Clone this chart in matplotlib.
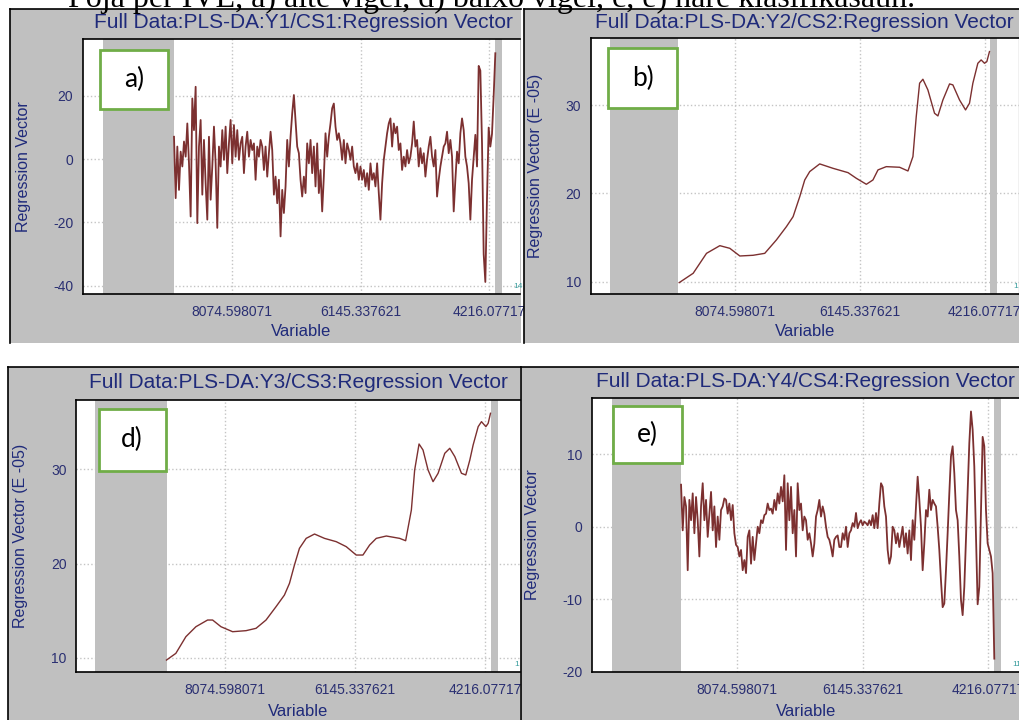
"""
Four PLS-DA regression vector panels (screenshot style), 2x2 layout.
"""

import numpy as np
import matplotlib.pyplot as plt
from matplotlib.patches import Rectangle

# ---------------- data ----------------
caption = 'Foja per IVE, a) alte vigel, d) baixo vigel, c, e) hare klasifikasaun.'

titles = ['Full Data:PLS-DA:Y1/CS1:Regression Vector',
          'Full Data:PLS-DA:Y2/CS2:Regression Vector',
          'Full Data:PLS-DA:Y3/CS3:Regression Vector',
          'Full Data:PLS-DA:Y4/CS4:Regression Vector']
ylabels = ['Regression Vector', 'Regression Vector (E -05)',
           'Regression Vector (E -05)', 'Regression Vector']
tags = ['a)', 'b)', 'd)', 'e)']
corner_labels = ['14', '1', '1', '11']

xtick_vals = [8074.598071, 6145.337621, 4216.07717]
xtick_labels = ['8074.598071', '6145.337621', '4216.07717']
excluded = [(10005, 8945), (4130, 4020)]   # grey (excluded) wavenumber ranges

# Y1/CS1 (noisy), evenly spaced variables from 8945 to 4125
rv_a = [7.1, -12.3, 4.0, -9.7, 2.4, -2.3, 5.6, 0.8, 11.3, -1.3,
        -18.1, 19.2, 9.2, 22.9, -20.2, 4.0, 12.4, -11.2, 6.1, -7.6,
        -19.1, 7.1, -12.8, -2.3, 10.3, -1.3, -21.7, 4.0, -2.3, 9.2,
        -0.2, 10.3, -4.4, 5.0, 12.4, -1.3, 10.8, 0.8, 9.2, -0.2,
        5.0, 7.1, -4.4, 4.0, 8.7, 0.8, 6.1, 2.9, 5.0, -6.5,
        4.0, 0.8, 6.1, 4.0, -3.4, 4.0, -5.5, 1.9, 8.7, 2.9,
        -11.2, -5.5, -13.9, -6.5, -24.4, -9.7, -17.0, -8.6, 6.1, -2.3,
        7.1, 14.5, 20.3, 12.4, 4.0, 1.9, -6.5, -11.8, -5.5, -10.7,
        5.0, -1.3, 6.1, -4.4, 4.0, -8.6, 5.0, -10.7, -3.4, -16.5,
        -5.5, 8.2, 0.8, 7.1, 11.3, 16.1, 17.6, 10.3, 6.1, 8.2,
        5.0, -0.2, 6.1, -1.3, 5.0,
        2.9, -0.2, 4.0, -2.3, -4.4, -1.3, -6.5, -2.3, -6.5, -3.4,
        -8.6, -4.4, -9.7, -1.3, -6.5, -4.4, -8.6, -1.3, -10.7, -19.1,
        -7.6, -0.2, 4.0, 8.2, 11.3, 12.9, 4.0, 11.3, 8.2, 10.3,
        2.9, 5.0, -3.4, 0.8, -2.3, 2.9, -1.3, 0.8, 5.0, 11.9,
        4.0, 6.1, -2.3, 3.5, -1.3, 1.9, -5.5, -0.2, 4.0, 7.1,
        0.8, -2.3, 2.9, -11.8, -6.5, -2.3, 0.8, 4.0, 5.0, 8.7,
        1.9, 6.1, 0.8, -16.5, -6.5, 2.4, -1.3, 8.2, 12.9, 9.2,
        0.8, -2.3, -7.6, -19.1, -6.5, 0.8, 7.7, -2.3,
        29.5, 28.0, 5.0, -30.0, -38.8, -12.0, 10.0, 4.0, 8.0, 20.0, 33.5]
wn_a = np.linspace(8945, 4125, len(rv_a))

# Y2/CS2 (smooth, E-05)
wn_b = [8934, 8718, 8512, 8306, 8152, 7997, 7792, 7612, 7432, 7277,
        7174, 7071, 6994, 6917, 6763, 6557, 6325, 6197, 6042, 5940,
        5862, 5734, 5528, 5399, 5322, 5271, 5219, 5168, 5091, 4988,
        4936, 4859, 4756, 4705, 4602, 4509, 4448, 4396, 4319, 4268,
        4216, 4180, 4139]
rv_b = [9.89, 10.95, 13.21, 14.08, 13.78, 12.91, 12.99, 13.21, 14.73, 16.24,
        17.37, 19.64, 21.53, 22.48, 23.35, 22.85, 22.36, 21.72, 21.04, 21.53,
        22.67, 23.04, 22.97, 22.55, 24.18, 28.71, 32.50, 32.95, 31.74, 29.09,
        28.79, 30.60, 32.42, 32.31, 30.60, 29.47, 30.23, 32.50, 34.76, 35.14,
        34.76, 34.95, 36.09]

# Y3/CS3 (smooth, E-05)
wn_d = [8948, 8809, 8660, 8511, 8338, 8263, 8139, 7966, 7767, 7618,
        7470, 7321, 7197, 7122, 7048, 6974, 6874, 6750, 6602, 6428,
        6279, 6131, 6031, 5932, 5833, 5684, 5486, 5397, 5312, 5263,
        5198, 5139, 5064, 4990, 4915, 4816, 4742, 4667, 4568, 4504,
        4444, 4395, 4320, 4271, 4206, 4172, 4137]
rv_d = [9.75, 10.46, 12.23, 13.29, 14.0, 14.0, 13.29, 12.76, 12.87, 13.12,
        14.0, 15.42, 16.65, 17.89, 19.84, 21.61, 22.67, 23.13, 22.67, 22.32,
        21.79, 20.90, 20.90, 21.96, 22.67, 22.92, 22.67, 22.42, 25.68, 29.93,
        32.69, 32.05, 29.93, 28.69, 29.58, 31.70, 32.23, 31.35, 29.58, 29.40,
        30.99, 32.58, 34.53, 35.06, 34.53, 34.88, 35.95]

# Y4/CS4 (noisy), evenly spaced variables from 8940 to 4125
rv_e = [5.8, -0.5, 4.1, 2.8, -6.0, 3.7, 0.9, 4.6, -0.9, 4.1,
        0.9, -4.1, 2.8, 6.0, 0.9, 3.7, -1.4, 1.8, 4.8, -0.5,
        2.8, -2.8, 1.4, -1.8, 2.3, 2.8, 3.9, 3.7, 1.8, 3.2,
        0.9, 3.0, -0.9, -2.5, -2.8, -4.1, -3.2, -6.0, -4.6, -6.4,
        -1.4, -0.5, -5.1, -1.4, -4.6, -2.3, 0.0, -0.9, 0.9, 0.5,
        1.6, 1.8, 3.2, 2.3, 2.5, 1.8, 3.7, 2.3, 4.6, 3.2,
        5.5, 3.5, 7.1, -3.2, 6.0, 0.9, 5.5, -0.9, 2.3, -4.1,
        6.0, 2.3, 3.2, -0.5, 1.4, 0.9, -1.8, -0.9, -2.3, -4.1,
        -2.3, 1.4, 2.3, 3.7, 1.4, 2.8, 1.8, 0.0, -1.4, -1.8,
        -2.8, -4.1, -1.8, -1.4, -1.2, -2.8,
        -2.8, -0.9, -1.8, 0.0, -2.8, -0.9, -0.5, 0.5, 0.0, 1.9,
        -0.2, 0.5, 0.9, 0.2, 0.7, 0.5, 0.2, 0.9, 0.2, 1.6,
        -0.2, 1.9, -0.2, 3.2, 6.0, 5.5, 2.8, 1.4, -3.2, -5.1,
        -4.1, 0.0, -0.5, -2.3, -0.9, -2.8, -1.4, 0.0, -2.8, -0.9,
        -3.7, -0.5, -4.6, 0.9, -1.8, 2.8, 6.9, 3.7, 0.0, -6.0,
        -2.3, 2.3, 1.4, 5.1, 2.3, 3.7, 3.2, 2.8, 0.0, -3.2,
        -7.4, -11.1, -10.6, -6.0, -0.9, 4.6, 9.7, 11.1, 7.4, 2.3,
        0.9, -4.1, -10.1, -12.2, -8.3, -1.8, 4.6, 11.5, 15.9, 13.4,
        8.3, -0.9, -10.7, -8.3, 2.3, 12.4, 11.1, 2.3, -2.3, -3.2,
        -4.1, -6.4, -18.2]
wn_e = np.linspace(8940, 4125, len(rv_e))

series = [(wn_a, rv_a), (wn_b, rv_b), (wn_d, rv_d), (wn_e, rv_e)]
yticks = [[-40, -20, 0, 20], [10, 20, 30], [10, 20, 30], [-20, -10, 0, 10]]

# ---------------- layout (pixels, top-left origin) ----------------
W, H = 1020, 720
frames = [(10, 8.5, 521, 343), (524.5, 8.5, 1020, 343),
          (8, 367, 520.5, 720), (521, 367, 1020, 720)]
plots = [(83, 39, 520, 294.3), (591, 37.7, 1019, 294),
         (76.3, 400, 520, 672.3), (592.3, 397.7, 1020, 671.7)]
xlims = [(10310, 3755), (10297, 3683), (10287, 3699), (10304, 3730)]
ylims = [(-42.7, 38.0), (8.6, 37.66), (8.45, 37.36), (-20, 17.8)]
title_pos = [(303, 23), (804.5, 22), (298, 382.7), (805.8, 381.7)]
xlabel_y = [332, 331, 712, 711]
ylabel_off = [60, 55.3, 55.6, 59.6]
tag_boxes = [(100, 50, 167.7, 109), (608.3, 48.3, 677.3, 108.3),
             (98.7, 409, 165.7, 470.7), (612.7, 406, 682.3, 463.3)]
corner_pos = [(513, 287), (1013, 287), (514, 665), (1012, 665)]
right_spine = [False, True, False, False]
line_w = [1.3, 1.0, 1.0, 1.3]

NAVY = '#1f2a7a'
TICK = '#2a2f72'
LINE = '#7c3030'
GREY = '#c0c0c0'
GREEN = '#70ad47'


def box(l, t, r, b):
    return [l / W, 1 - b / H, (r - l) / W, (b - t) / H]


plt.rcParams['font.family'] = ['Liberation Sans', 'DejaVu Sans']
plt.rcParams['axes.unicode_minus'] = False
fig = plt.figure(figsize=(W / 100, H / 100), dpi=100)
fig.patch.set_facecolor('white')

# caption line of the page, cut off at the top edge
fig.text(68 / W, 1 - 6.5 / H, caption, family='Liberation Serif',
         fontsize=23, va='baseline', ha='left', color='black')

for i in range(4):
    # grey screenshot frame
    fa = fig.add_axes(box(*frames[i]))
    fa.set_facecolor(GREY)
    fa.set_xticks([])
    fa.set_yticks([])
    fa.spines['right'].set_visible(False)
    fa.spines['bottom'].set_visible(False)
    for s in ['left', 'top']:
        fa.spines[s].set_linewidth(1.2)
        fa.spines[s].set_color('black')

    # plot area
    l, t, r, b = plots[i]
    ax = fig.add_axes(box(l, t, r, b))
    ax.set_facecolor('white')
    ax.set_xlim(*xlims[i])
    ax.set_ylim(*ylims[i])
    for lo, hi in excluded:
        ax.axvspan(lo, hi, color=GREY, lw=0, zorder=1)
    x, y = series[i]
    ax.plot(x, y, color=LINE, lw=line_w[i], zorder=3)

    ax.set_xticks(xtick_vals)
    ax.set_xticklabels(xtick_labels)
    ax.set_yticks(yticks[i])
    ax.tick_params(length=0, labelsize=10, labelcolor=TICK)
    ax.tick_params(axis='x', pad=8)
    ax.tick_params(axis='y', pad=7)
    ax.set_axisbelow(True)
    ax.grid(True, ls=':', color='#c4c4c4', lw=1)
    for s in ['left', 'top', 'bottom']:
        ax.spines[s].set_color('black')
        ax.spines[s].set_linewidth(1.2)
    ax.spines['right'].set_visible(right_spine[i])
    ax.spines['right'].set_color('black')

    wpx, hpx = r - l, b - t
    ax.set_xlabel('Variable', fontsize=12, color=NAVY)
    ax.xaxis.label.set_va('center')
    ax.xaxis.set_label_coords(0.5, -(xlabel_y[i] - b) / hpx)
    ax.set_ylabel(ylabels[i], fontsize=11.5, color=NAVY)
    ax.yaxis.label.set_va('center')
    ax.yaxis.set_label_coords(-ylabel_off[i] / wpx, 0.5)

    cx, cy = corner_pos[i]
    ax.text(cx / W, 1 - cy / H, corner_labels[i], transform=fig.transFigure,
            fontsize=6, color='#3a9e9e', va='center', ha='left')

    # title
    tx, ty = title_pos[i]
    fig.text(tx / W, 1 - ty / H, titles[i], fontsize=15, color=NAVY,
             ha='center', va='center')

    # tag box
    bl, bt, br, bb = tag_boxes[i]
    fig.add_artist(Rectangle((bl / W, 1 - bb / H), (br - bl) / W, (bb - bt) / H,
                             transform=fig.transFigure, facecolor='white',
                             edgecolor=GREEN, lw=2, zorder=5))
    fig.text((bl + br) / 2 / W, 1 - (bt + bb) / 2 / H, tags[i],
             family=['Lato', 'DejaVu Sans'], fontsize=19, color='black',
             ha='center', va='center', zorder=6)

fig.savefig('out.png', dpi=100)
